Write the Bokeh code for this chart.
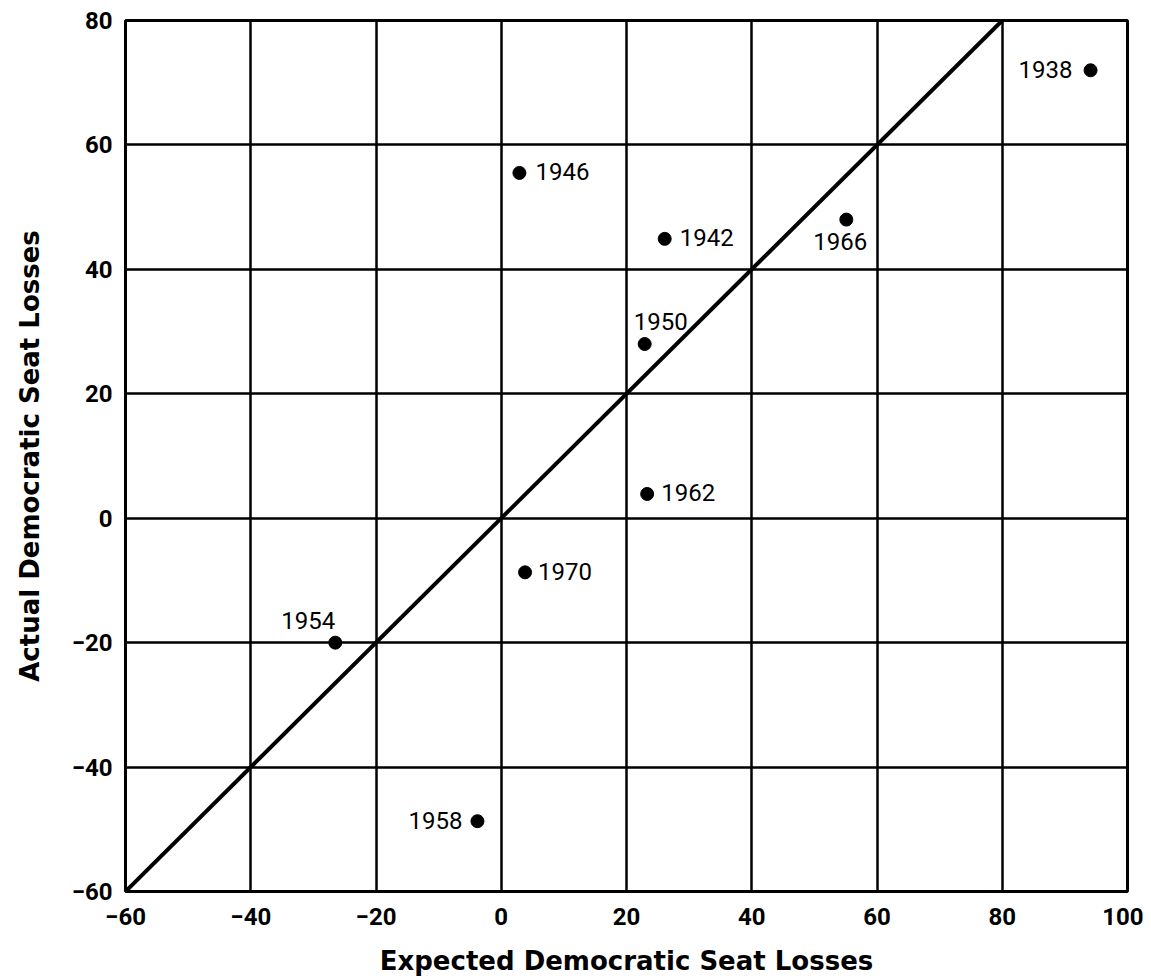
from bokeh.plotting import figure
from bokeh.models import Range1d, FixedTicker, Slope, ColumnDataSource
from bokeh.core.properties import value
from bokeh.embed import file_html
from bokeh.resources import INLINE

# ---- data ----
years = ["1938", "1942", "1946", "1950", "1954", "1958", "1962", "1966", "1970"]
expected_losses = [94.1, 26.1, 2.9, 22.9, -26.5, -3.8, 23.3, 55.1, 3.8]
actual_losses = [72.0, 44.9, 55.5, 28.0, -20.0, -48.7, 3.9, 48.0, -8.7]
x_ticks = [-60, -40, -20, 0, 20, 40, 60, 80, 100]
y_ticks = [-60, -40, -20, 0, 20, 40, 60, 80]

# ---- label placement (style only): (x_offset px, y_offset px, align) ----
label_place = {
    "1938": (-18, -1, "right"),
    "1942": (15, -1, "left"),
    "1946": (16, -1, "left"),
    "1950": (16, -23, "center"),
    "1954": (-27, -22, "center"),
    "1958": (-15, -1, "right"),
    "1962": (14, -1, "left"),
    "1966": (-6, 22, "center"),
    "1970": (13, -1, "left"),
}

TICK_FONT = "Roboto"
TITLE_FONT = "DejaVu Sans"

p = figure(
    frame_width=1002, frame_height=871,
    x_range=Range1d(-60, 100), y_range=Range1d(-60, 80),
    output_backend="svg", toolbar_location=None,
    min_border_left=125, min_border_right=16,
    min_border_top=20, min_border_bottom=10,
    background_fill_color="white", border_fill_color="white",
)

p.outline_line_color = "black"
p.outline_line_width = 3

p.xaxis.ticker = FixedTicker(ticks=x_ticks)
p.yaxis.ticker = FixedTicker(ticks=y_ticks)
p.xgrid.ticker = FixedTicker(ticks=x_ticks)
p.ygrid.ticker = FixedTicker(ticks=y_ticks)
for g in (p.xgrid, p.ygrid):
    g.grid_line_color = "black"
    g.grid_line_width = 2.5
    g.grid_line_alpha = 1.0

for ax in (p.xaxis, p.yaxis):
    ax.axis_line_color = None
    ax.major_tick_line_color = None
    ax.minor_tick_line_color = None
    ax.major_label_text_font = TICK_FONT
    ax.major_label_text_font_style = "bold"
    ax.major_label_text_font_size = "24px"
    ax.major_label_text_color = "black"
    ax.axis_label_text_font = TITLE_FONT
    ax.axis_label_text_font_style = "bold"
    ax.axis_label_text_font_size = "26px"
    ax.axis_label_text_color = "black"

p.xaxis.axis_label = "Expected Democratic Seat Losses"
p.yaxis.axis_label = "Actual Democratic Seat Losses"
p.xaxis.major_label_standoff = 10
p.yaxis.major_label_standoff = 7
p.xaxis.axis_label_standoff = 18
p.yaxis.axis_label_standoff = 24

# 45-degree reference line (actual = expected)
p.add_layout(Slope(gradient=1, y_intercept=0, line_color="black", line_width=4))

src = ColumnDataSource(dict(
    x=expected_losses,
    y=actual_losses,
    year=years,
    xo=[label_place[y][0] for y in years],
    yo=[label_place[y][1] for y in years],
    align=[label_place[y][2] for y in years],
))

p.scatter("x", "y", source=src, size=13, color="black")
p.text("x", "y", text="year", source=src, x_offset="xo", y_offset="yo",
       text_align="align", text_baseline="alphabetic",
       text_font=value(TICK_FONT), text_font_size="24px", text_color="black")

open("out.html", "w").write(file_html(p, INLINE))
